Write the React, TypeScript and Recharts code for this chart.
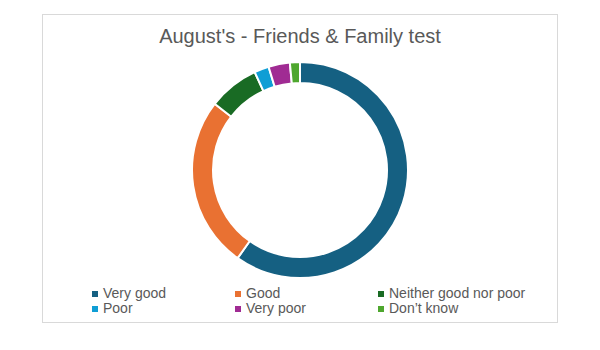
import { PieChart, Pie, Cell, Legend } from 'recharts';

const CATEGORIES = ['Very good', 'Good', 'Neither good nor poor', 'Poor', 'Very poor', 'Don’t know'];
const VALUES = [59.8, 25.7, 7.6, 2.2, 3.2, 1.5];
const COLORS = ['#156082', '#E97132', '#196B24', '#0F9ED5', '#A02B93', '#4EA72E'];

const TITLE = "August's - Friends & Family test";

const data = CATEGORIES.map((name, i) => ({ name, value: VALUES[i] }));

const FONT = '"Liberation Sans", Arial, sans-serif';

function LegendGrid() {
  return (
    <div
      style={{
        display: 'grid',
        gridTemplateColumns: '143px 143px 170px',
        fontFamily: FONT,
        fontSize: 14,
        color: '#595959',
        lineHeight: '15px',
      }}
    >
      {CATEGORIES.map((c, i) => (
        <div key={c} style={{ display: 'flex', alignItems: 'center' }}>
          <span
            style={{
              display: 'inline-block',
              width: 6,
              height: 6,
              background: COLORS[i],
              marginRight: 5,
            }}
          />
          {c}
        </div>
      ))}
    </div>
  );
}

export default function App() {
  return (
    <div style={{ position: 'absolute', left: 0, top: 0, width: 600, height: 350, background: '#fff' }}>
      <div
        style={{
          position: 'absolute',
          left: 42,
          top: 14,
          width: 514,
          height: 307,
          border: '1px solid #d9d9d9',
        }}
      />
      <div
        style={{
          position: 'absolute',
          left: 0,
          top: 25,
          width: 600,
          textAlign: 'center',
          fontFamily: FONT,
          fontSize: 20,
          color: '#595959',
        }}
      >
        {TITLE}
      </div>
      <div style={{ position: 'absolute', left: 0, top: 0 }}>
        <PieChart width={600} height={350} margin={{ top: 0, right: 0, bottom: 0, left: 0 }}>
          <Pie
            data={data}
            dataKey="value"
            nameKey="name"
            cx={300}
            cy={170}
            innerRadius={87}
            outerRadius={108}
            startAngle={90}
            endAngle={-270}
            stroke="#fff"
            strokeWidth={2}
            isAnimationActive={false}
          >
            {data.map((_, i) => (
              <Cell key={i} fill={COLORS[i]} />
            ))}
          </Pie>
          <Legend
            content={<LegendGrid />}
            wrapperStyle={{ position: 'absolute', left: 92, top: 286, width: 470 }}
          />
        </PieChart>
      </div>
    </div>
  );
}
